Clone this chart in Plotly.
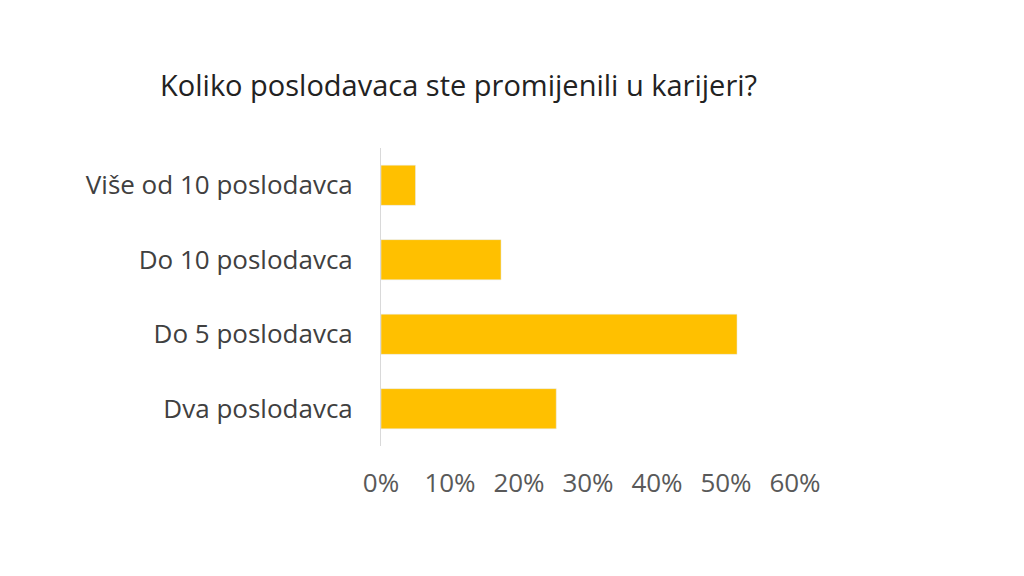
import plotly.graph_objects as go

categories = ["Dva poslodavca", "Do 5 poslodavca", "Do 10 poslodavca", "Više od 10 poslodavca"]
shares = [25.4, 51.6, 17.4, 5.0]
tick_vals = [0, 10, 20, 30, 40, 50, 60]
tick_text = ["0%", "10%", "20%", "30%", "40%", "50%", "60%"]

fig = go.Figure(go.Bar(x=shares, y=categories, orientation="h",
                       marker_color="#FFC000", width=0.54))

fig.update_layout(
    width=1024, height=576,
    paper_bgcolor="white", plot_bgcolor="white",
    margin=dict(l=373, r=237, t=140, b=138),
    font=dict(family="Open Sans", size=26, color="#595959"),
    title=dict(text="Koliko poslodavaca ste promijenili u karijeri?",
               x=0.44, xanchor="center", y=0.865, yanchor="middle",
               font=dict(size=29, color="#222222")),
    showlegend=False,
)
fig.update_xaxes(range=[0, 60], tickvals=tick_vals, ticktext=tick_text,
                 showgrid=False, zeroline=False, showline=False,
                 ticks="outside", ticklen=14, tickcolor="rgba(0,0,0,0)")
fig.update_yaxes(showgrid=False, showline=True, linecolor="#d9d9d9", linewidth=1,
                 ticks="outside", ticklen=22, tickcolor="rgba(0,0,0,0)",
                 tickfont=dict(color="#404040"))

fig.write_html("out.html")
